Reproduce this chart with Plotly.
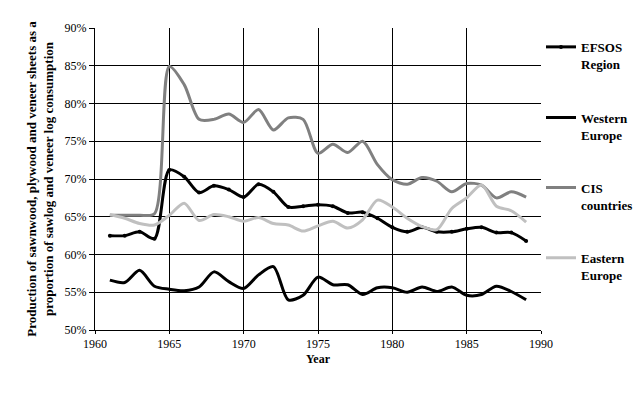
import plotly.graph_objects as go

years = list(range(1961, 1990))

efsos = [62.5, 62.5, 63.0, 62.1, 71.2, 70.3, 68.2, 69.1, 68.6, 67.6,
         69.3, 68.3, 66.3, 66.4, 66.6, 66.4, 65.5, 65.6, 64.8, 63.6,
         63.0, 63.6, 63.0, 63.0, 63.4, 63.6, 62.9, 62.9, 61.8]

western = [56.6, 56.3, 57.9, 55.8, 55.4, 55.2, 55.7, 57.7, 56.4, 55.5,
           57.3, 58.4, 54.0, 54.6, 57.0, 56.0, 56.0, 54.7, 55.6, 55.6,
           55.0, 55.7, 55.1, 55.7, 54.6, 54.7, 55.8, 55.1, 54.0]

cis = [65.2, 65.2, 65.2, 65.4, 84.9, 82.5, 77.9, 77.9, 78.6, 77.5,
       79.2, 76.5, 78.1, 77.9, 73.4, 74.6, 73.5, 75.0, 71.9, 69.9,
       69.3, 70.2, 69.7, 68.3, 69.4, 69.2, 67.5, 68.3, 67.6]

eastern = [65.3, 64.8, 64.1, 63.9, 65.2, 66.8, 64.5, 65.3, 65.0, 64.4,
           64.9, 64.1, 63.9, 63.1, 63.8, 64.4, 63.5, 64.6, 67.2, 66.3,
           64.8, 63.7, 63.3, 66.1, 67.5, 69.2, 66.4, 65.8, 64.3]

series = [
    ("<b>EFSOS<br>Region</b>", efsos, "#000000", True, "legend"),
    ("<b>Western<br>Europe</b>", western, "#000000", False, "legend2"),
    ("<b>CIS<br>countries</b>", cis, "#808080", False, "legend3"),
    ("<b>Eastern<br>Europe</b>", eastern, "#C0C0C0", False, "legend4"),
]

FONT = "Liberation Serif"

fig = go.Figure()
for name, vals, color, markers, leg in series:
    fig.add_trace(go.Scatter(
        x=years, y=vals, name=name,
        mode="lines+markers" if markers else "lines",
        line=dict(color=color, width=3, shape="spline", smoothing=0.8),
        marker=dict(size=4, color=color) if markers else None,
        legend=leg,
    ))

legend_y = [0.987, 0.753, 0.521, 0.289]
leg_common = dict(
    x=1.0, xanchor="left", yanchor="top", valign="top",
    font=dict(family=FONT, size=13, color="black"),
    bgcolor="rgba(0,0,0,0)", itemwidth=30, borderwidth=0,
)
fig.update_layout(
    legend=dict(y=legend_y[0], **leg_common),
    legend2=dict(y=legend_y[1], **leg_common),
    legend3=dict(y=legend_y[2], **leg_common),
    legend4=dict(y=legend_y[3], **leg_common),
)

fig.update_layout(
    width=642, height=394, autosize=False,
    margin=dict(l=87, r=101, t=20, b=72),
    paper_bgcolor="white", plot_bgcolor="white",
    font=dict(family=FONT, size=12, color="black"),
    showlegend=True,
)

fig.update_xaxes(
    range=[1960, 1990], dtick=5, tick0=1960,
    showgrid=True, gridcolor="black", gridwidth=1,
    showline=True, linecolor="black", linewidth=1, mirror=False,
    ticks="outside", ticklen=3, tickcolor="black",
    tickfont=dict(family=FONT, size=12),
    title=dict(text="<b>Year</b>", font=dict(family=FONT, size=12), standoff=4),
    zeroline=False,
)
fig.update_yaxes(
    range=[50, 90], dtick=5, tick0=50, ticksuffix="%",
    showgrid=True, gridcolor="black", gridwidth=1,
    showline=True, linecolor="black", linewidth=1,
    ticks="outside", ticklen=5, tickcolor="black",
    tickfont=dict(family=FONT, size=12),
    title=dict(text="<b>Production of sawnwood, plywood and veneer sheets as a<br>proportion of sawlog and veneer log consumption</b>",
               font=dict(family=FONT, size=13), standoff=8),
    zeroline=False,
)

fig.write_html("out.html")
